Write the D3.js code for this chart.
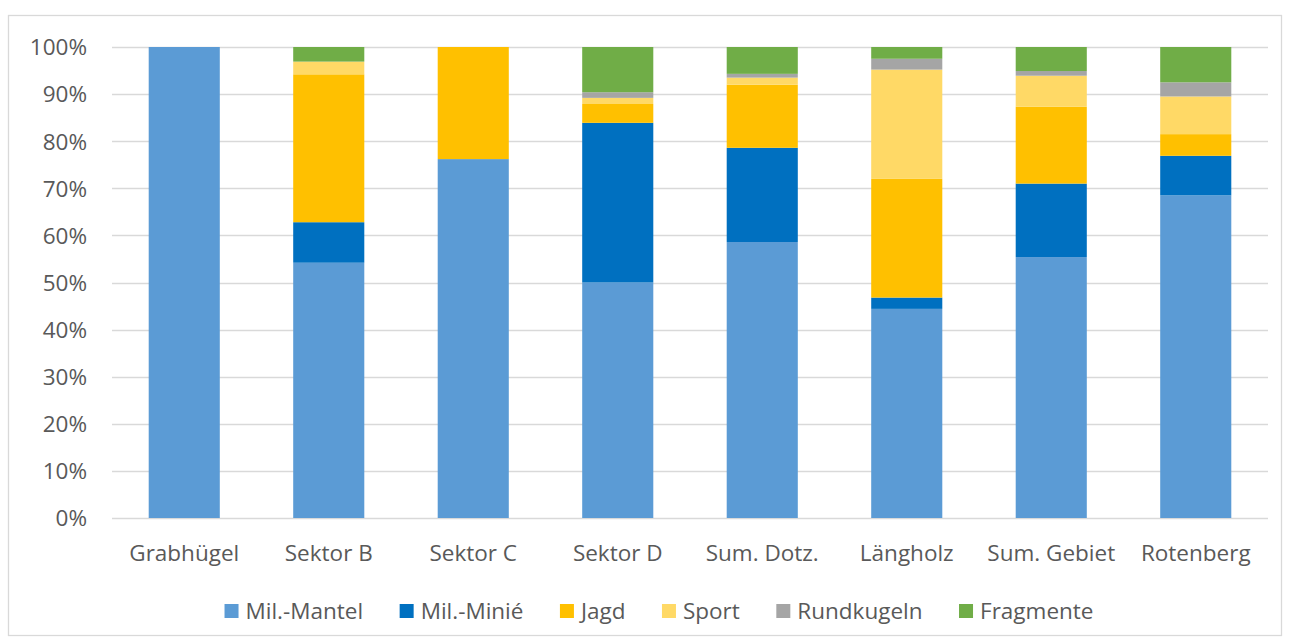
<!DOCTYPE html>
<html><head><meta charset="utf-8">
<script src="https://cdn.jsdelivr.net/npm/d3@7"></script>
<style>html,body{margin:0;padding:0;background:#fff;}svg{display:block;}</style>
</head><body>
<svg id="chart" width="1290" height="644"></svg>
<script>
const categories = ["Grabhügel","Sektor B","Sektor C","Sektor D","Sum. Dotz.","Längholz","Sum. Gebiet","Rotenberg"];
const seriesNames = ["Mil.-Mantel","Mil.-Minié","Jagd","Sport","Rundkugeln","Fragmente"];
const milMantel  = [100, 54.2, 76.2, 50.0, 58.6, 44.4, 55.4, 68.5];
const milMinie   = [0,   8.6,  0,   33.9, 20.0, 2.4,  15.6, 8.4];
const jagd       = [0,   31.4, 23.8, 4.0, 13.4, 25.2, 16.3, 4.6];
const sport      = [0,   2.7,  0,   1.3,  1.5,  23.2, 6.6,  8.0];
const rundkugeln = [0,   0,    0,   1.2,  0.8,  2.3,  1.0,  3.0];
const fragmente  = [0,   3.1,  0,   9.6,  5.7,  2.5,  5.1,  7.5];
const yTicks = [0,10,20,30,40,50,60,70,80,90,100];
const colors = ["#5B9BD5","#0070C0","#FFC000","#FFD966","#A5A5A5","#70AD47"];

(function(){
const seriesValues = [milMantel, milMinie, jagd, sport, rundkugeln, fragmente];
const table = categories.map((c,i)=>{
  const row = {cat:c};
  seriesNames.forEach((s,j)=>row[s]=seriesValues[j][i]);
  return row;
});

const svg = d3.select("#chart");
const font = "'Open Sans', sans-serif";
const textColor = "#595959";
const fs = 22.5;

// outer border
svg.append("rect").attr("x",8.5).attr("y",15.5).attr("width",1273).attr("height",620)
  .attr("fill","#fff").attr("stroke","#d9d9d9").attr("stroke-width",1.3);

const pLeft = 112, pRight = 1268, pTop = 47, pBottom = 518;
const x = d3.scaleBand().domain(categories).range([pLeft,pRight]).paddingInner(0.508).paddingOuter(0.254);
const y = d3.scaleLinear().domain([0,100]).range([pBottom,pTop]);

// grid
svg.append("g").selectAll("line").data(yTicks).join("line")
  .attr("x1",pLeft).attr("x2",pRight)
  .attr("y1",d=>Math.round(y(d))+0.5).attr("y2",d=>Math.round(y(d))+0.5)
  .attr("stroke","#d9d9d9").attr("stroke-width",1.3);

// y axis labels
const yAxis = d3.axisLeft(y).tickValues(yTicks).tickFormat(d=>d+"%").tickSize(0).tickPadding(0);
const yg = svg.append("g").attr("transform",`translate(87,0)`).call(yAxis);
yg.select(".domain").remove();
yg.selectAll("text").attr("font-family",font).attr("font-size",fs).attr("fill",textColor).attr("dy","0.35em");

// stacked bars
const stack = d3.stack().keys(seriesNames)(table);
svg.append("g").selectAll("g").data(stack).join("g")
  .attr("fill",(d,i)=>colors[i])
  .selectAll("rect").data(d=>d).join("rect")
  .attr("x",d=>x(d.data.cat))
  .attr("width",x.bandwidth())
  .attr("y",d=>y(d[1]))
  .attr("height",d=>Math.max(0,y(d[0])-y(d[1])));

// x axis labels
const xAxis = d3.axisBottom(x).tickSize(0).tickPadding(0);
const xg = svg.append("g").attr("transform",`translate(0,${pBottom})`).call(xAxis);
xg.select(".domain").remove();
xg.selectAll("text").attr("font-family",font).attr("font-size",fs).attr("fill",textColor).attr("y",43).attr("dy",0);

// legend
const lg = svg.append("g");
const items = lg.selectAll("g").data(seriesNames).join("g");
items.append("rect").attr("width",14).attr("height",14).attr("y",-7).attr("fill",(d,i)=>colors[i]);
items.append("text").text(d=>d).attr("x",21).attr("dy","0.35em")
  .attr("font-family",font).attr("font-size",fs).attr("fill",textColor);
let cx = 0; const gap = 36.5;
items.each(function(){
  const w = 21 + d3.select(this).select("text").node().getComputedTextLength();
  d3.select(this).attr("transform",`translate(${cx},0)`);
  cx += w + gap;
});
const total = cx - gap;
lg.attr("transform",`translate(${659 - total/2},611)`);
})();
</script>
</body></html>
